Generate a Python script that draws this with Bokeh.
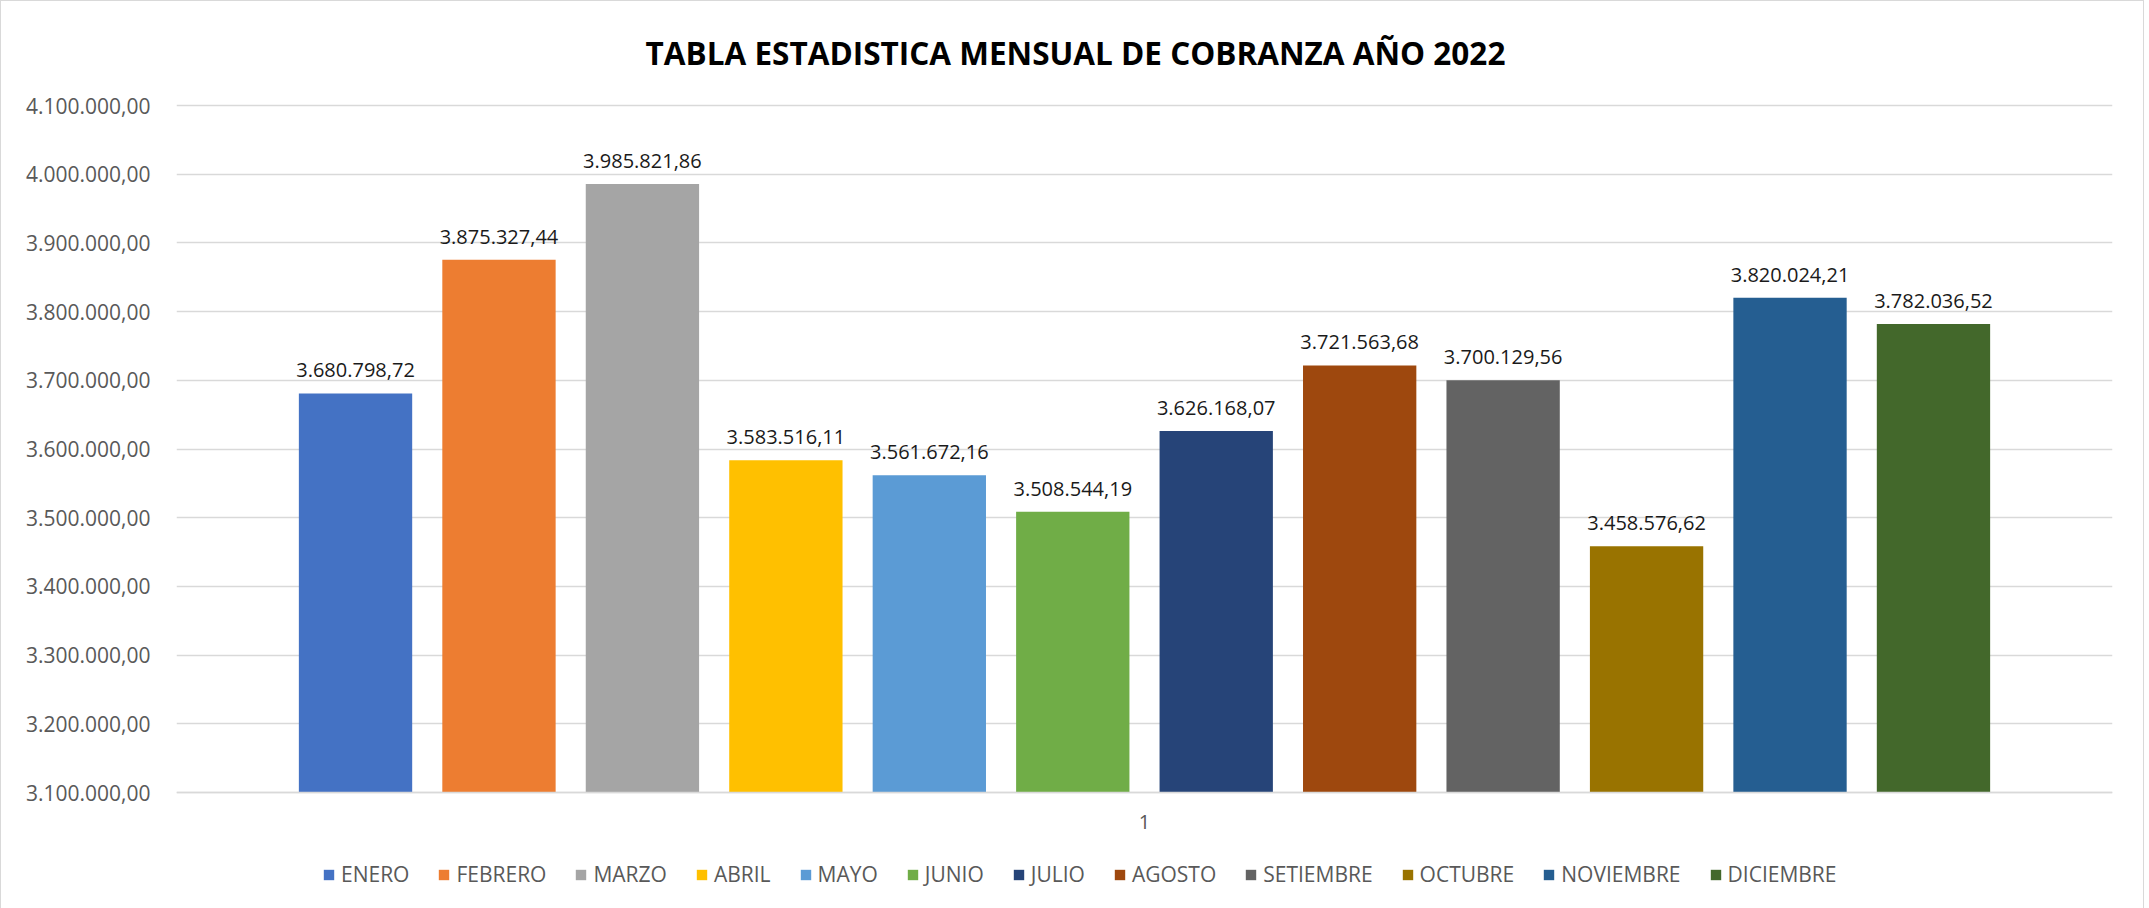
from bokeh.plotting import figure
from bokeh.models import Range1d, FixedTicker, Legend, LegendItem, Label, ColumnDataSource
from bokeh.core.properties import value
from bokeh.embed import file_html
from bokeh.resources import INLINE

months = ["ENERO", "FEBRERO", "MARZO", "ABRIL", "MAYO", "JUNIO", "JULIO",
          "AGOSTO", "SETIEMBRE", "OCTUBRE", "NOVIEMBRE", "DICIEMBRE"]
amounts = [3680798.72, 3875327.44, 3985821.86, 3583516.11, 3561672.16, 3508544.19,
           3626168.07, 3721563.68, 3700129.56, 3458576.62, 3820024.21, 3782036.52]
colors = ["#4472C4", "#ED7D31", "#A5A5A5", "#FFC000", "#5B9BD5", "#70AD47",
          "#264478", "#9E480E", "#636363", "#997300", "#255E91", "#43682B"]
y_ticks = [3100000, 3200000, 3300000, 3400000, 3500000, 3600000,
           3700000, 3800000, 3900000, 4000000, 4100000]
category_label = "1"
title_text = "TABLA ESTADISTICA MENSUAL DE COBRANZA AÑO 2022"


def es_fmt(v):
    s = f"{v:,.2f}"
    return s.replace(",", "X").replace(".", ",").replace("X", ".")


FONT = "Open Sans"

# the frame extends above and below the value area so title and legend sit inside it
VALUE_PX = 687      # pixels between the lowest and highest tick
EXTRA_PX = 113      # room below the lowest tick for category label and legend
TOP_PX = 101        # room above the highest tick for the title
span = y_ticks[-1] - y_ticks[0]
y_start = y_ticks[0] - span * EXTRA_PX / VALUE_PX
y_end = y_ticks[-1] + span * TOP_PX / VALUE_PX
FRAME_H = VALUE_PX + EXTRA_PX + TOP_PX

p = figure(frame_width=1936, frame_height=FRAME_H, output_backend="svg",
           toolbar_location=None, title=None,
           x_range=Range1d(-1.248, 12.248), y_range=Range1d(y_start, y_end),
           min_border_left=175, min_border_right=31, min_border_top=3, min_border_bottom=3)
p.outline_line_color = None
p.styles = {"border": "1px solid #d9d9d9", "box-sizing": "border-box"}

xs = list(range(len(months)))
items = []
for i, (m, v, c) in enumerate(zip(months, amounts, colors)):
    src = ColumnDataSource(dict(x=[xs[i]], top=[v], lab=[es_fmt(v)]))
    r = p.vbar(x="x", top="top", bottom=y_ticks[0], width=0.79, source=src,
               fill_color=c, line_color=None)
    p.text(x="x", y="top", text="lab", source=src, text_align="center",
           text_baseline="middle", y_offset=-23, text_font=value(FONT),
           text_font_size="20px", text_color="#1a1a1a")
    items.append(LegendItem(label=m, renderers=[r]))

# axes
p.yaxis.ticker = FixedTicker(ticks=y_ticks)
p.yaxis.major_label_overrides = {t: es_fmt(t) for t in y_ticks}
p.yaxis.axis_line_color = None
p.yaxis.major_tick_line_color = None
p.yaxis.minor_tick_line_color = None
p.yaxis.major_label_standoff = 20
p.yaxis.major_label_text_font = FONT
p.yaxis.major_label_text_font_size = "21px"
p.yaxis.major_label_text_color = "#595959"

center_x = (xs[0] + xs[-1]) / 2
p.xaxis.fixed_location = y_ticks[0]
p.xaxis.ticker = FixedTicker(ticks=[center_x])
p.xaxis.major_label_overrides = {center_x: category_label}
p.xaxis.axis_line_color = "#d9d9d9"
p.xaxis.axis_line_width = 1.5
p.xaxis.major_tick_line_color = None
p.xaxis.minor_tick_line_color = None
p.xaxis.major_label_standoff = 16
p.xaxis.major_label_text_font = FONT
p.xaxis.major_label_text_font_size = "20px"
p.xaxis.major_label_text_color = "#595959"

p.xgrid.grid_line_color = None
p.ygrid.ticker = FixedTicker(ticks=y_ticks)
p.ygrid.grid_line_color = "#d9d9d9"
p.ygrid.grid_line_width = 1.5

legend = Legend(items=items, orientation="horizontal", location=(146, 17),
                glyph_width=13, glyph_height=13, label_standoff=6, spacing=28,
                padding=0, margin=0, border_line_color=None,
                background_fill_alpha=0, label_text_font=FONT,
                label_text_font_size="21px", label_text_color="#595959",
                label_height=20)
p.add_layout(legend, "center")

title = Label(x=899, y=FRAME_H - 48, x_units="screen", y_units="screen", text=title_text,
              text_align="center", text_baseline="middle", text_font=FONT,
              text_font_size="31.5px", text_font_style="bold", text_color="#000000")
p.add_layout(title)

open("out.html", "w").write(file_html(p, INLINE))
